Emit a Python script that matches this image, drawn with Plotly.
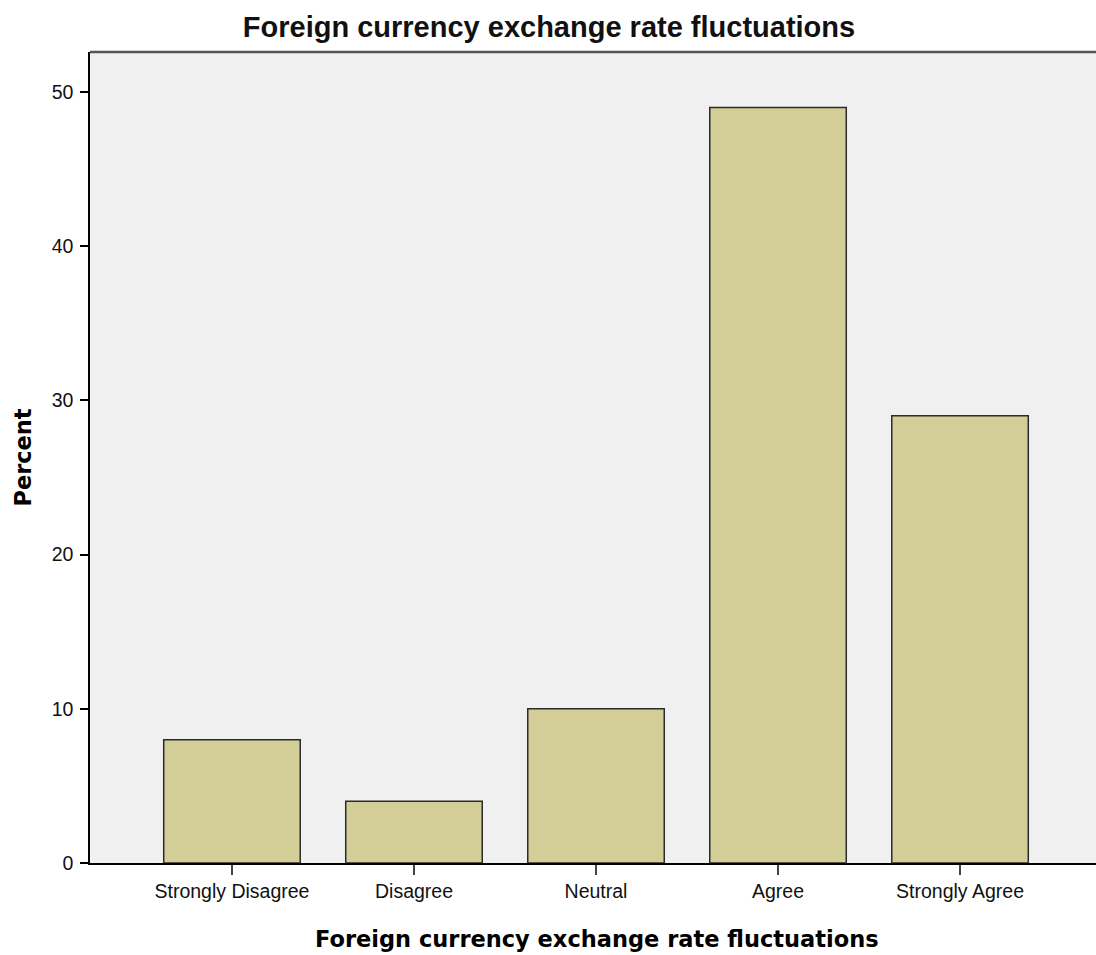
import plotly.graph_objects as go

categories = ["Strongly Disagree", "Disagree", "Neutral", "Agree", "Strongly Agree"]
percent = [8, 4, 10, 49, 29]
y_ticks = [0, 10, 20, 30, 40, 50]

W, H = 1096, 955
L, R, T, B = 90, 0, 52, 92
plot_w, plot_h = W - L - R, H - T - B

fig = go.Figure(go.Bar(
    x=categories, y=percent,
    marker=dict(color="#d3ce97", line=dict(color="#2b2b2b", width=1.5)),
    width=0.75,
))

fig.update_layout(
    width=W, height=H,
    margin=dict(l=L, r=R, t=T, b=B),
    paper_bgcolor="white", plot_bgcolor="#f0f0f0",
    showlegend=False,
    title=dict(text="<b>Foreign currency exchange rate fluctuations</b>",
               x=549 / W, xanchor="center", y=1 - 27 / H, yanchor="middle",
               font=dict(family="Liberation Sans, Arial", size=29, color="#111111")),
    shapes=[dict(type="line", xref="paper", yref="paper", x0=0, x1=1, y0=1, y1=1,
                 line=dict(color="#555555", width=2.5))],
    annotations=[dict(text="<b>Foreign currency exchange rate fluctuations</b>",
                      xref="paper", yref="paper",
                      x=(597 - L) / plot_w, y=-(939 - (H - B)) / plot_h,
                      xanchor="center", yanchor="middle", showarrow=False,
                      font=dict(family="DejaVu Sans", size=22.5, color="black"))],
)
fig.update_xaxes(
    range=[-0.78, 4.747], showgrid=False, zeroline=False,
    showline=True, linecolor="black", linewidth=1.5,
    ticks="outside", ticklen=10, tickwidth=1.5, tickcolor="#444",
    tickfont=dict(family="Liberation Sans, Arial", size=19.5, color="#111111"),
    automargin=False,
)
fig.update_yaxes(
    range=[0, 52.6], tickvals=y_ticks, showgrid=False, zeroline=False,
    showline=True, linecolor="black", linewidth=1.5,
    ticks="outside", ticklen=8, tickwidth=1.5, tickcolor="black",
    ticklabelstandoff=3,
    tickfont=dict(family="Liberation Sans, Arial", size=19.5, color="#111111"),
    title=dict(text="<b>Percent</b>",
               font=dict(family="DejaVu Sans", size=22.5, color="black"), standoff=14),
)

fig.write_html("out.html",
               config={"displayModeBar": False},
               post_script="document.body.style.margin='0';document.body.style.overflow='hidden';")
